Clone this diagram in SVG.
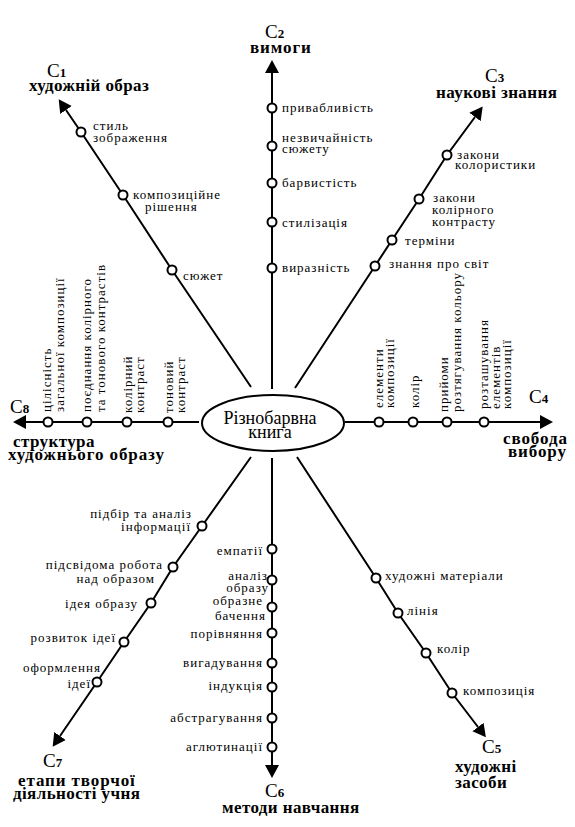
<svg xmlns="http://www.w3.org/2000/svg" width="575" height="827" viewBox="0 0 575 827">
<style>
text{font-family:"Liberation Serif","Times New Roman",serif;fill:#000}
.t{font-size:13px;letter-spacing:1px}
.e{text-anchor:end}
.h{font-size:17px;font-weight:bold;letter-spacing:0.4px}
.w{letter-spacing:0.9px}
.c{font-size:19px}
.s{font-size:13px;font-weight:bold}
.ln{fill:none;stroke:#000;stroke-width:2}
.nd{fill:#fff;stroke:#000;stroke-width:2}
</style>
<defs>
<marker id="arr" markerUnits="userSpaceOnUse" markerWidth="14" markerHeight="16" viewBox="0 -8 14 16" refX="0" refY="0" orient="auto"><path d="M0,-7 L13,0 L0,7 z" fill="#000"/></marker>
</defs>
<rect width="575" height="827" fill="#fff"/>
<g id="connectors">
<polyline class="ln" marker-end="url(#arr)" points="251,387 172,270 123,195 81,132 66,110"/>
<polyline class="ln" marker-end="url(#arr)" points="272,389 272,268 272,222 272,183 272,146 272,108 272,73"/>
<polyline class="ln" marker-end="url(#arr)" points="295,388 375,266 392,240 419,199 447,155 475,117"/>
<polyline class="ln" marker-end="url(#arr)" points="345,422 379,422 413,422 447,422 484,422 540,422"/>
<polyline class="ln" marker-end="url(#arr)" points="297,457 376,578 398,613 426,653 452,693 478,727"/>
<polyline class="ln" marker-end="url(#arr)" points="272,458 272,549 272,580 272,607 272,633 272,663 272,687 272,718 272,747 272,765"/>
<polyline class="ln" marker-end="url(#arr)" points="251,457 202,526 173,567 151,603 124,642 97,682 60,736"/>
<polyline class="ln" marker-end="url(#arr)" points="199,422 168,422 127,422 87,422 48,422 26,422"/>
</g>
<g id="center">
<ellipse cx="273" cy="423" rx="71" ry="28" fill="#fff" stroke="#000" stroke-width="2"/>
<text x="270" y="424" font-size="18" text-anchor="middle">Різнобарвна</text>
<text x="270" y="438" font-size="18" text-anchor="middle">книга</text>
</g>
<g id="C1">
<text class="c" x="47" y="77">C<tspan class="s">1</tspan></text>
<text class="h" x="29" y="91">художній образ</text>
</g>
<g id="C2">
<text class="c" x="265" y="38">C<tspan class="s">2</tspan></text>
<text class="h w" x="250" y="53">вимоги</text>
</g>
<g id="C3">
<text class="c" x="485" y="82">C<tspan class="s">3</tspan></text>
<text class="h" x="436" y="98">наукові знання</text>
</g>
<g id="C4">
<text class="c" x="529" y="403">C<tspan class="s">4</tspan></text>
<text class="h w" x="503" y="444">свобода</text>
<text class="h w" x="508" y="457">вибору</text>
</g>
<g id="C5">
<text class="c" x="482" y="753">C<tspan class="s">5</tspan></text>
<text class="h" x="455" y="772">художні</text>
<text class="h" x="455" y="788">засоби</text>
</g>
<g id="C6">
<text class="c" x="265" y="797">C<tspan class="s">6</tspan></text>
<text class="h" x="222" y="813">методи навчання</text>
</g>
<g id="C7">
<text class="c" x="43" y="767">C<tspan class="s">7</tspan></text>
<text class="h w" x="18" y="786">етапи творчої</text>
<text class="h" x="13" y="799">діяльності учня</text>
</g>
<g id="C8">
<text class="c" x="10" y="413">C<tspan class="s">8</tspan></text>
<text class="h" x="13" y="447">структура</text>
<text class="h w" x="8" y="460">художнього образу</text>
</g>
<g id="c1-1"><circle class="nd" cx="81" cy="132" r="4.5"/><text class="t" x="93" y="130">стиль</text><text class="t" x="93" y="142">зображення</text></g>
<g id="c1-2"><circle class="nd" cx="123" cy="195" r="4.5"/><text class="t" x="133" y="199">композиційне</text><text class="t" x="145" y="211">рішення</text></g>
<g id="c1-3"><circle class="nd" cx="172" cy="270" r="4.5"/><text class="t" x="183" y="280">сюжет</text></g>
<g id="c2-1"><circle class="nd" cx="272" cy="108" r="4.5"/><text class="t" x="282" y="112">привабливість</text></g>
<g id="c2-2"><circle class="nd" cx="272" cy="146" r="4.5"/><text class="t" x="282" y="142">незвичайність</text><text class="t" x="282" y="153">сюжету</text></g>
<g id="c2-3"><circle class="nd" cx="272" cy="183" r="4.5"/><text class="t" x="282" y="187">барвистість</text></g>
<g id="c2-4"><circle class="nd" cx="272" cy="222" r="4.5"/><text class="t" x="282" y="227">стилізація</text></g>
<g id="c2-5"><circle class="nd" cx="272" cy="268" r="4.5"/><text class="t" x="282" y="272">виразність</text></g>
<g id="c3-1"><circle class="nd" cx="447" cy="155" r="4.5"/><text class="t" x="457" y="159">закони</text><text class="t" x="455" y="169">колористики</text></g>
<g id="c3-2"><circle class="nd" cx="419" cy="199" r="4.5"/><text class="t" x="433" y="202">закони</text><text class="t" x="432" y="214">колірного</text><text class="t" x="432" y="226">контрасту</text></g>
<g id="c3-3"><circle class="nd" cx="392" cy="240" r="4.5"/><text class="t" x="405" y="245">терміни</text></g>
<g id="c3-4"><circle class="nd" cx="375" cy="266" r="4.5"/><text class="t" x="389" y="268">знання про світ</text></g>
<g id="c4-1"><circle class="nd" cx="379" cy="422" r="4.5"/><text class="t" transform="translate(383,408) rotate(-90)">елементи</text><text class="t" transform="translate(394,408) rotate(-90)">композиції</text></g>
<g id="c4-2"><circle class="nd" cx="413" cy="422" r="4.5"/><text class="t" transform="translate(419,408) rotate(-90)">колір</text></g>
<g id="c4-3"><circle class="nd" cx="447" cy="422" r="4.5"/><text class="t" transform="translate(448,412) rotate(-90)">прийоми</text><text class="t" transform="translate(461,412) rotate(-90)">розтягування кольору</text></g>
<g id="c4-4"><circle class="nd" cx="484" cy="422" r="4.5"/><text class="t" transform="translate(488,409) rotate(-90)">розташування</text><text class="t" transform="translate(500,409) rotate(-90)">елементів</text><text class="t" transform="translate(511,409) rotate(-90)">композиції</text></g>
<g id="c5-1"><circle class="nd" cx="376" cy="578" r="4.5"/><text class="t" x="385" y="580">художні матеріали</text></g>
<g id="c5-2"><circle class="nd" cx="398" cy="613" r="4.5"/><text class="t" x="407" y="615">лінія</text></g>
<g id="c5-3"><circle class="nd" cx="426" cy="653" r="4.5"/><text class="t" x="437" y="653">колір</text></g>
<g id="c5-4"><circle class="nd" cx="452" cy="693" r="4.5"/><text class="t" x="463" y="695">композиція</text></g>
<g id="c6-1"><circle class="nd" cx="272" cy="549" r="4.5"/><text class="t e" x="263" y="555">емпатії</text></g>
<g id="c6-2"><circle class="nd" cx="272" cy="580" r="4.5"/><text class="t e" x="268" y="580">аналіз</text><text class="t e" x="269" y="592">образу</text></g>
<g id="c6-3"><circle class="nd" cx="272" cy="607" r="4.5"/><text class="t e" x="263" y="605">образне</text><text class="t e" x="266" y="620">бачення</text></g>
<g id="c6-4"><circle class="nd" cx="272" cy="633" r="4.5"/><text class="t e" x="263" y="638">порівняння</text></g>
<g id="c6-5"><circle class="nd" cx="272" cy="663" r="4.5"/><text class="t e" x="263" y="667">вигадування</text></g>
<g id="c6-6"><circle class="nd" cx="272" cy="687" r="4.5"/><text class="t e" x="263" y="690">індукція</text></g>
<g id="c6-7"><circle class="nd" cx="272" cy="718" r="4.5"/><text class="t e" x="263" y="722">абстрагування</text></g>
<g id="c6-8"><circle class="nd" cx="272" cy="747" r="4.5"/><text class="t e" x="263" y="751">аглютинації</text></g>
<g id="c7-1"><circle class="nd" cx="202" cy="526" r="4.5"/><text class="t e" x="192" y="518">підбір та аналіз</text><text class="t e" x="191" y="531">інформації</text></g>
<g id="c7-2"><circle class="nd" cx="173" cy="567" r="4.5"/><text class="t e" x="163" y="569">підсвідома робота</text><text class="t e" x="155" y="583">над образом</text></g>
<g id="c7-3"><circle class="nd" cx="151" cy="603" r="4.5"/><text class="t e" x="138" y="608">ідея образу</text></g>
<g id="c7-4"><circle class="nd" cx="124" cy="642" r="4.5"/><text class="t e" x="116" y="642">розвиток ідеї</text></g>
<g id="c7-5"><circle class="nd" cx="97" cy="682" r="4.5"/><text class="t e" x="101" y="672">оформлення</text><text class="t e" x="91" y="688">ідеї</text></g>
<g id="c8-1"><circle class="nd" cx="168" cy="422" r="4.5"/><text class="t" transform="translate(173,413) rotate(-90)">тоновий</text><text class="t" transform="translate(185,413) rotate(-90)">контраст</text></g>
<g id="c8-2"><circle class="nd" cx="127" cy="422" r="4.5"/><text class="t" transform="translate(132,413) rotate(-90)">колірний</text><text class="t" transform="translate(144,413) rotate(-90)">контраст</text></g>
<g id="c8-3"><circle class="nd" cx="87" cy="422" r="4.5"/><text class="t" transform="translate(91,412) rotate(-90)">поєднання колірного</text><text class="t" transform="translate(105,412) rotate(-90)">та тонового контрастів</text></g>
<g id="c8-4"><circle class="nd" cx="48" cy="422" r="4.5"/><text class="t" transform="translate(51,412) rotate(-90)">цілісність</text><text class="t" transform="translate(64,412) rotate(-90)">загальної композиції</text></g>
</svg>
